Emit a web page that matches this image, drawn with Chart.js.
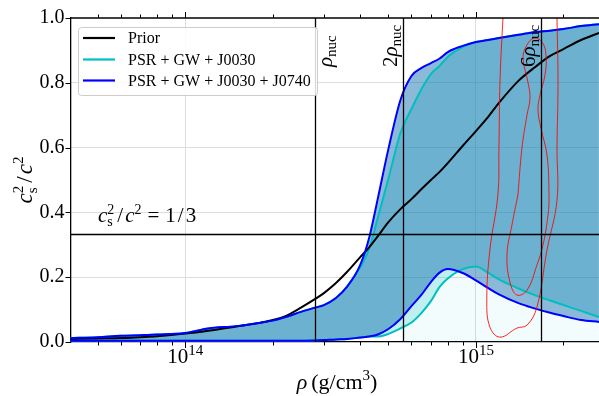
<!DOCTYPE html>
<html><head><meta charset="utf-8">
<script src="https://cdn.jsdelivr.net/npm/chart.js@4.4.0/dist/chart.umd.min.js"></script>
<style>html,body{margin:0;padding:0;background:#fff;}#wrap{width:599px;height:396px;}</style>
</head><body><div id="wrap"><canvas id="c" width="599" height="396"></canvas></div>
<script>
// ---------------- data ----------------
const rho = [4e13,5e13,6e13,7e13,8e13,1e14,1.2e14,1.5e14,1.8e14,2e14,2.2e14,2.5e14,2.8e14,3e14,3.3e14,3.6e14,4e14,4.3e14,4.6e14,5e14,5.5e14,6e14,6.5e14,7e14,7.5e14,8e14,9e14,1e15,1.1e15,1.2e15,1.4e15,1.6e15,1.8e15,2e15,2.3e15,2.65e15];
const priorMedian = [0.009,0.011,0.012,0.015,0.018,0.026,0.035,0.048,0.059,0.068,0.079,0.106,0.133,0.151,0.182,0.216,0.262,0.293,0.327,0.370,0.410,0.441,0.472,0.500,0.525,0.552,0.605,0.651,0.694,0.738,0.806,0.849,0.883,0.904,0.932,0.954];
const j0030Upper = [0.012,0.015,0.019,0.021,0.023,0.028,0.042,0.049,0.059,0.066,0.076,0.093,0.106,0.114,0.136,0.170,0.230,0.290,0.384,0.504,0.645,0.719,0.781,0.827,0.852,0.880,0.910,0.926,0.932,0.938,0.948,0.957,0.961,0.966,0.975,0.981];
const j0030Lower = [0.004,0.004,0.004,0.004,0.004,0.004,0.004,0.004,0.004,0.004,0.004,0.004,0.005,0.006,0.008,0.009,0.014,0.017,0.017,0.025,0.042,0.060,0.090,0.126,0.170,0.196,0.225,0.233,0.214,0.193,0.165,0.144,0.128,0.114,0.096,0.077];
const j0740Upper = [0.012,0.015,0.019,0.021,0.023,0.028,0.042,0.049,0.059,0.066,0.076,0.093,0.106,0.114,0.136,0.170,0.238,0.324,0.444,0.596,0.747,0.821,0.846,0.861,0.875,0.895,0.914,0.926,0.932,0.938,0.948,0.957,0.961,0.966,0.975,0.981];
const j0740Lower = [0.004,0.004,0.004,0.004,0.004,0.004,0.004,0.004,0.004,0.004,0.004,0.004,0.005,0.006,0.008,0.009,0.014,0.017,0.023,0.040,0.071,0.111,0.146,0.185,0.214,0.225,0.213,0.190,0.167,0.147,0.120,0.103,0.090,0.080,0.068,0.062];
// faint shading under the lower envelope, from 2 rho_nuc upward
const shadeRho = [5.6e14,6e14,6.5e14,7e14,7.5e14,8e14,9e14,1e15,1.1e15,1.2e15,1.4e15,1.6e15,1.8e15,2e15,2.3e15,2.65e15];
const shadeTop = [0.043,0.060,0.090,0.126,0.170,0.196,0.213,0.190,0.167,0.147,0.120,0.103,0.090,0.080,0.068,0.062];
// red credible-region contours
const outerRho = [1.249e15,1.239e15,1.21e15,1.20e15,1.19e15,1.117e15,1.09e15,1.117e15,1.21e15,1.384e15,1.499e15,1.622e15,1.756e15,1.901e15,1.901e15,1.916e15,1.901e15,1.901e15];
const outerCs2 = [1.04,1.0,0.802,0.599,0.454,0.284,0.130,0.046,0.015,0.043,0.052,0.108,0.284,0.438,0.599,0.802,1.0,1.04];
const innerRho = [1.395e15,1.44e15,1.499e15,1.535e15,1.51e15,1.452e15,1.499e15,1.584e15,1.688e15,1.742e15,1.728e15,1.661e15,1.635e15,1.674e15,1.756e15,1.784e15,1.77e15,1.701e15,1.622e15,1.499e15,1.384e15,1.309e15,1.279e15,1.33e15,1.395e15];
const innerCs2 = [0.454,0.599,0.701,0.753,0.802,0.877,0.917,0.938,0.926,0.886,0.824,0.762,0.716,0.660,0.577,0.454,0.392,0.299,0.238,0.160,0.145,0.185,0.269,0.361,0.454];
// axes / annotations
const xMin = 4.03e13, xMax = 2.651e15;
const xTickValues = [5e13,6e13,7e13,8e13,9e13,1e14,2e14,3e14,4e14,5e14,6e14,7e14,8e14,9e14,1e15,2e15];
const xMajorTicks = [1e14,1e15];
const xMajorLabels = [['10','14'],['10','15']];
const yTickValues = [0,0.2,0.4,0.6,0.8,1.0];
const rhoNuc = 2.8e14;
const nucMultiples = [1,2,6];
const nucLabelPrefix = ['','2','6'];
const conformalLimit = 1/3;
const seriesNames = ['Prior','PSR + GW + J0030','PSR + GW + J0030 + J0740'];
const seriesColors = ['#000000','#00bfbf','#0000ff'];

// ---------------- chart ----------------
const SERIF = '"Liberation Serif","DejaVu Serif",serif';
const pts = (xs, ys) => xs.map((x, i) => ({x: x, y: ys[i]}));

function drawRich(ctx, x, y, parts, measureOnly) {
  let cx = x;
  for (const p of parts) {
    if (p.stack) {
      ctx.font = p.stack.size + 'px ' + SERIF;
      const w1 = ctx.measureText(p.stack.sup).width, w2 = ctx.measureText(p.stack.sub).width;
      if (!measureOnly) {
        ctx.fillText(p.stack.sup, cx, y - p.stack.up);
        ctx.fillText(p.stack.sub, cx, y + p.stack.down);
      }
      cx += Math.max(w1, w2) + (p.stack.gap || 1);
      continue;
    }
    cx += (p.pre || 0);
    ctx.font = (p.italic ? 'italic ' : '') + p.size + 'px ' + SERIF;
    if (!measureOnly) ctx.fillText(p.t, cx, y + (p.dy || 0));
    cx += ctx.measureText(p.t).width + (p.gap || 0);
  }
  return cx - x;
}

const decor = {
  id: 'decor',
  afterDatasetsDraw(chart) {
    const ctx = chart.ctx, a = chart.chartArea;
    const xs = chart.scales.x, ys = chart.scales.y;
    ctx.save();
    ctx.strokeStyle = '#000';
    ctx.lineWidth = 1.3;
    // reference lines
    for (const m of nucMultiples) {
      const px = Math.round(xs.getPixelForValue(m * rhoNuc)) + 0.5;
      ctx.beginPath(); ctx.moveTo(px, a.top); ctx.lineTo(px, a.bottom); ctx.stroke();
    }
    const py13 = Math.round(ys.getPixelForValue(conformalLimit)) + 0.5;
    ctx.beginPath(); ctx.moveTo(a.left, py13); ctx.lineTo(a.right, py13); ctx.stroke();
    // top spine
    ctx.beginPath(); ctx.moveTo(a.left, a.top); ctx.lineTo(a.right, a.top); ctx.stroke();
    // tick marks
    ctx.lineWidth = 1;
    for (const v of xTickValues) {
      const px = Math.round(xs.getPixelForValue(v)) + 0.5;
      const len = xMajorTicks.includes(v) ? 6 : 3.5;
      ctx.beginPath();
      ctx.moveTo(px, a.bottom); ctx.lineTo(px, a.bottom + len);
      ctx.moveTo(px, a.top); ctx.lineTo(px, a.top - len);
      ctx.stroke();
    }
    for (const v of yTickValues) {
      const py = Math.round(ys.getPixelForValue(v)) + 0.5;
      ctx.beginPath(); ctx.moveTo(a.left - 5, py); ctx.lineTo(a.left, py); ctx.stroke();
    }
    ctx.fillStyle = '#000';
    ctx.textBaseline = 'alphabetic';
    ctx.textAlign = 'left';
    // x tick labels
    xMajorTicks.forEach((v, i) => {
      const px = xs.getPixelForValue(v);
      const parts = [{t: xMajorLabels[i][0], size: 21}, {t: xMajorLabels[i][1], size: 15, dy: -8}];
      const w = drawRich(ctx, 0, 0, parts, true);
      drawRich(ctx, px - w / 2, 363, parts);
    });
    // x axis label
    {
      const parts = [{t: 'ρ', size: 22, italic: true, gap: 4}, {t: '(g/cm', size: 22}, {t: '3', size: 15, dy: -9}, {t: ')', size: 22}];
      const w = drawRich(ctx, 0, 0, parts, true);
      drawRich(ctx, 337 - w / 2, 389, parts);
    }
    // y axis label (rotated)
    {
      const parts = [{t: 'c', size: 23, italic: true}, {stack: {sup: '2', sub: 's', size: 15, up: 9, down: 5}},
                     {t: '/', size: 23, pre: 2, gap: 2}, {t: 'c', size: 23, italic: true}, {t: '2', size: 15, dy: -9}];
      const w = drawRich(ctx, 0, 0, parts, true);
      ctx.save(); ctx.translate(32, 180); ctx.rotate(-Math.PI / 2);
      drawRich(ctx, -w / 2, 0, parts); ctx.restore();
    }
    // conformal-limit annotation
    {
      const parts = [{t: 'c', size: 21, italic: true}, {stack: {sup: '2', sub: 's', size: 14, up: 8, down: 4}},
                     {t: '/', size: 21, pre: 2, gap: 2}, {t: 'c', size: 21, italic: true}, {t: '2', size: 14, dy: -8, gap: 6},
                     {t: '=', size: 21, gap: 6}, {t: '1', size: 21}, {t: '/', size: 21, pre: 2, gap: 2}, {t: '3', size: 21}];
      drawRich(ctx, 98, 222, parts);
    }
    // rho_nuc labels (rotated)
    const nucBase = [332, 397, 535];
    nucMultiples.forEach((m, i) => {
      const parts = [];
      if (nucLabelPrefix[i]) parts.push({t: nucLabelPrefix[i], size: 21});
      parts.push({t: 'ρ', size: 21, italic: true});
      parts.push({t: 'nuc', size: 15, dy: 4});
      ctx.save(); ctx.translate(nucBase[i], 67); ctx.rotate(-Math.PI / 2);
      drawRich(ctx, 0, 0, parts); ctx.restore();
    });
    // legend
    {
      const bx = 78.5, by = 27.5, bw = 239, bh = 68, r = 3;
      ctx.beginPath();
      ctx.moveTo(bx + r, by); ctx.lineTo(bx + bw - r, by); ctx.quadraticCurveTo(bx + bw, by, bx + bw, by + r);
      ctx.lineTo(bx + bw, by + bh - r); ctx.quadraticCurveTo(bx + bw, by + bh, bx + bw - r, by + bh);
      ctx.lineTo(bx + r, by + bh); ctx.quadraticCurveTo(bx, by + bh, bx, by + bh - r);
      ctx.lineTo(bx, by + r); ctx.quadraticCurveTo(bx, by, bx + r, by);
      ctx.closePath();
      ctx.fillStyle = 'rgba(255,255,255,0.85)'; ctx.fill();
      ctx.strokeStyle = '#cccccc'; ctx.lineWidth = 1; ctx.stroke();
      const rows = [38, 59.5, 80.5];
      seriesNames.forEach((n, i) => {
        ctx.strokeStyle = seriesColors[i]; ctx.lineWidth = 2.2;
        ctx.beginPath(); ctx.moveTo(83, rows[i]); ctx.lineTo(115, rows[i]); ctx.stroke();
        ctx.fillStyle = '#000'; ctx.font = '16px ' + SERIF;
        ctx.fillText(n, 128, rows[i] + 5);
      });
    }
    ctx.restore();
  }
};

const common = {pointRadius: 0, pointHoverRadius: 0, cubicInterpolationMode: 'monotone'};
new Chart(document.getElementById('c'), {
  type: 'scatter',
  data: {
    datasets: [
      Object.assign({data: pts(shadeRho, shadeTop), showLine: true, borderWidth: 0, borderColor: 'rgba(0,0,0,0)', fill: 'origin', backgroundColor: 'rgba(0,190,190,0.05)', order: 10}, common),
      Object.assign({data: pts(rho, j0030Lower), showLine: true, borderWidth: 2, borderColor: seriesColors[1], fill: false, order: 9}, common),
      Object.assign({data: pts(rho, j0030Upper), showLine: true, borderWidth: 2, borderColor: seriesColors[1], fill: '-1', backgroundColor: 'rgba(0,190,190,0.25)', order: 8}, common),
      Object.assign({data: pts(rho, priorMedian), showLine: true, borderWidth: 2, borderColor: seriesColors[0], fill: false, order: 5}, common),
      Object.assign({data: pts(rho, j0740Lower), showLine: true, borderWidth: 2, borderColor: seriesColors[2], fill: false, order: 4}, common),
      Object.assign({data: pts(rho, j0740Upper), showLine: true, borderWidth: 2, borderColor: seriesColors[2], fill: '-1', backgroundColor: 'rgba(25,115,175,0.5)', order: 3}, common),
      {data: pts(outerRho, outerCs2), showLine: true, borderWidth: 1, borderColor: 'rgba(255,0,0,0.85)', fill: false, pointRadius: 0, tension: 0.4, order: 1},
      {data: pts(innerRho, innerCs2), showLine: true, borderWidth: 1, borderColor: 'rgba(255,0,0,0.85)', fill: false, pointRadius: 0, tension: 0.4, order: 0}
    ]
  },
  options: {
    responsive: false, animation: false, devicePixelRatio: 1,
    layout: {padding: {top: 18, right: 0, bottom: 0, left: 0}},
    plugins: {legend: {display: false}, tooltip: {enabled: false}, filler: {drawTime: 'beforeDatasetsDraw'}},
    scales: {
      x: {
        type: 'logarithmic', min: xMin, max: xMax,
        afterFit(s) { s.height = 54; },
        afterBuildTicks(s) { s.ticks = xTickValues.map(v => ({value: v, major: xMajorTicks.includes(v)})); },
        ticks: {display: false},
        grid: {drawTicks: false, lineWidth: 1, color: c => (c.tick && xMajorTicks.includes(c.tick.value)) ? '#dddddd' : 'rgba(0,0,0,0)'},
        border: {display: true, color: '#000', width: 1.3}
      },
      y: {
        min: 0, max: 1,
        afterFit(s) { s.width = 70.5; },
        afterBuildTicks(s) { s.ticks = yTickValues.map(v => ({value: v})); },
        ticks: {callback: v => v.toFixed(1), font: {family: SERIF, size: 20}, color: '#000', padding: 6},
        grid: {drawTicks: false, lineWidth: 1, color: c => (c.tick && c.tick.value > 0.01 && c.tick.value < 0.99) ? '#dddddd' : 'rgba(0,0,0,0)'},
        border: {display: true, color: '#000', width: 1.3}
      }
    }
  },
  plugins: [decor]
});
</script></body></html>
